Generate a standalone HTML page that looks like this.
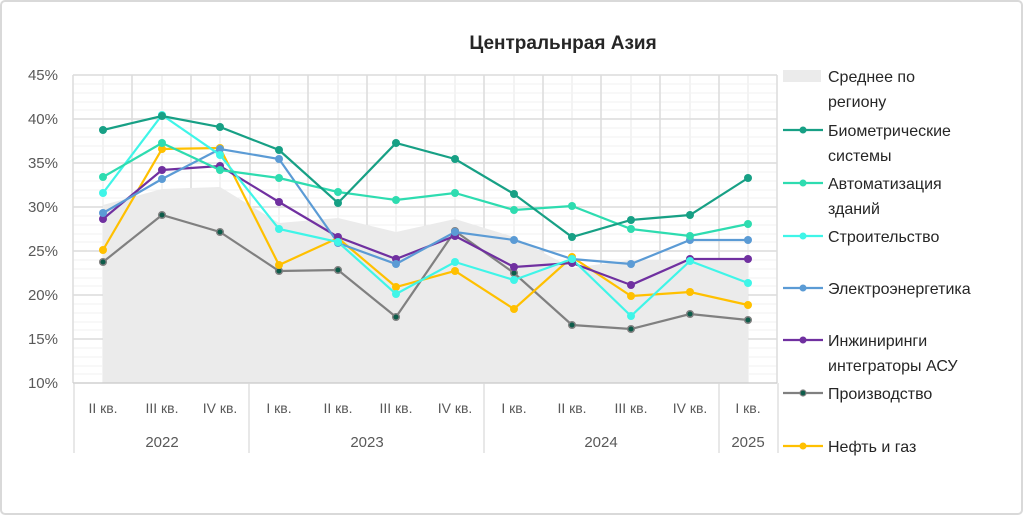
<!DOCTYPE html>
<html><head><meta charset="utf-8"><style>
body{margin:0;background:#fff;}
svg{display:block;font-family:"Liberation Sans","DejaVu Sans",sans-serif;}
</style></head><body>
<svg width="1024" height="516" viewBox="0 0 1024 516" xmlns="http://www.w3.org/2000/svg">
<rect x="1" y="1" width="1021" height="513" rx="4" fill="#fff" stroke="#d9d9d9" stroke-width="2"/>
<text x="563" y="49" font-size="19" font-weight="bold" text-anchor="middle" fill="#262626">Центральнрая Азия</text>
<g stroke="#f0f0f0" stroke-width="1">
<path d="M73 84H777M73 93H777M73 102H777M73 110H777M73 128H777M73 137H777M73 146H777M73 154H777M73 172H777M73 181H777M73 190H777M73 198H777M73 216H777M73 225H777M73 234H777M73 242H777M73 260H777M73 269H777M73 278H777M73 286H777M73 304H777M73 313H777M73 322H777M73 330H777M73 348H777M73 357H777M73 366H777M73 374H777"/>
<path d="M103 75V383M162 75V383M220 75V383M279 75V383M338 75V383M396 75V383M455 75V383M514 75V383M572 75V383M631 75V383M690 75V383M748 75V383" stroke="#f3f3f3" stroke-width="2"/>
</g>
<g stroke="#dcdcdc" stroke-width="1.5">
<path d="M73 75H777M73 119H777M73 163H777M73 207H777M73 251H777M73 295H777M73 339H777"/>
<path d="M73 75V383M132 75V383M191 75V383M250 75V383M308 75V383M367 75V383M425 75V383M484 75V383M543 75V383M601 75V383M660 75V383M719 75V383M777 75V383"/>
</g>
<polygon points="103,383 103,205 162,189 220,187 279,223 338,218 396,232 455,219 514,237 572,268 631,260 690,260 748,259 748,383" fill="#ebebeb"/>
<line x1="73" y1="383" x2="777" y2="383" stroke="#d0d0d0" stroke-width="1.5"/>
<g stroke="#d9d9d9" stroke-width="1.2"><path d="M74 383V453M249 383V453M484 383V453M719 383V453M778 383V453"/></g>
<g font-size="15" fill="#595959" text-anchor="end">
<text x="58" y="80">45%</text><text x="58" y="124">40%</text><text x="58" y="168">35%</text><text x="58" y="212">30%</text><text x="58" y="256">25%</text><text x="58" y="300">20%</text><text x="58" y="344">15%</text><text x="58" y="388">10%</text>
</g>
<g font-size="14" fill="#595959" text-anchor="middle">
<text x="103" y="413">II кв.</text><text x="162" y="413">III кв.</text><text x="220" y="413">IV кв.</text><text x="279" y="413">I кв.</text><text x="338" y="413">II кв.</text><text x="396" y="413">III кв.</text><text x="455" y="413">IV кв.</text><text x="514" y="413">I кв.</text><text x="572" y="413">II кв.</text><text x="631" y="413">III кв.</text><text x="690" y="413">IV кв.</text><text x="748" y="413">I кв.</text>
<text x="162" y="447" font-size="15">2022</text><text x="367" y="447" font-size="15">2023</text><text x="601" y="447" font-size="15">2024</text><text x="748" y="447" font-size="15">2025</text>
</g>
<g fill="none" stroke-width="2.2">
<polyline stroke="#808080" points="103,262 162,215 220,232 279,271 338,270 396,317 455,231 514,273 572,325 631,329 690,314 748,320"/>
<polyline stroke="#ffc000" points="103,250 162,149 220,148 279,265 338,238 396,287 455,271 514,309 572,257 631,296 690,292 748,305"/>
<polyline stroke="#7030a0" points="103,219 162,170 220,166 279,202 338,237 396,259 455,236 514,267 572,263 631,285 690,259 748,259"/>
<polyline stroke="#5b9bd5" points="103,213 162,179 220,149 279,159 338,243 396,264 455,232 514,240 572,259 631,264 690,240 748,240"/>
<polyline stroke="#3ff5e8" points="103,193 162,115 220,155 279,229 338,242 396,294 455,262 514,280 572,259 631,316 690,261 748,283"/>
<polyline stroke="#2edcb0" points="103,177 162,143 220,170 279,178 338,192 396,200 455,193 514,210 572,206 631,229 690,236 748,224"/>
<polyline stroke="#17a085" points="103,130 162,116 220,127 279,150 338,203 396,143 455,159 514,194 572,237 631,220 690,215 748,178"/>
</g>
<g stroke="#808080" stroke-width="1.5" fill="#0d5c4a">
<circle cx="103" cy="262" r="3.3"/><circle cx="162" cy="215" r="3.3"/><circle cx="220" cy="232" r="3.3"/><circle cx="279" cy="271" r="3.3"/><circle cx="338" cy="270" r="3.3"/><circle cx="396" cy="317" r="3.3"/><circle cx="455" cy="231" r="3.3"/><circle cx="514" cy="273" r="3.3"/><circle cx="572" cy="325" r="3.3"/><circle cx="631" cy="329" r="3.3"/><circle cx="690" cy="314" r="3.3"/><circle cx="748" cy="320" r="3.3"/>
</g>
<g fill="#ffc000"><circle cx="103" cy="250" r="4"/><circle cx="162" cy="149" r="4"/><circle cx="220" cy="148" r="4"/><circle cx="279" cy="265" r="4"/><circle cx="338" cy="238" r="4"/><circle cx="396" cy="287" r="4"/><circle cx="455" cy="271" r="4"/><circle cx="514" cy="309" r="4"/><circle cx="572" cy="257" r="4"/><circle cx="631" cy="296" r="4"/><circle cx="690" cy="292" r="4"/><circle cx="748" cy="305" r="4"/></g>
<g fill="#7030a0"><circle cx="103" cy="219" r="4"/><circle cx="162" cy="170" r="4"/><circle cx="220" cy="166" r="4"/><circle cx="279" cy="202" r="4"/><circle cx="338" cy="237" r="4"/><circle cx="396" cy="259" r="4"/><circle cx="455" cy="236" r="4"/><circle cx="514" cy="267" r="4"/><circle cx="572" cy="263" r="4"/><circle cx="631" cy="285" r="4"/><circle cx="690" cy="259" r="4"/><circle cx="748" cy="259" r="4"/></g>
<g fill="#5b9bd5"><circle cx="103" cy="213" r="4"/><circle cx="162" cy="179" r="4"/><circle cx="220" cy="149" r="4"/><circle cx="279" cy="159" r="4"/><circle cx="338" cy="243" r="4"/><circle cx="396" cy="264" r="4"/><circle cx="455" cy="232" r="4"/><circle cx="514" cy="240" r="4"/><circle cx="572" cy="259" r="4"/><circle cx="631" cy="264" r="4"/><circle cx="690" cy="240" r="4"/><circle cx="748" cy="240" r="4"/></g>
<g fill="#3ff5e8"><circle cx="103" cy="193" r="4"/><circle cx="162" cy="115" r="4"/><circle cx="220" cy="155" r="4"/><circle cx="279" cy="229" r="4"/><circle cx="338" cy="242" r="4"/><circle cx="396" cy="294" r="4"/><circle cx="455" cy="262" r="4"/><circle cx="514" cy="280" r="4"/><circle cx="572" cy="259" r="4"/><circle cx="631" cy="316" r="4"/><circle cx="690" cy="261" r="4"/><circle cx="748" cy="283" r="4"/></g>
<g fill="#2edcb0"><circle cx="103" cy="177" r="4"/><circle cx="162" cy="143" r="4"/><circle cx="220" cy="170" r="4"/><circle cx="279" cy="178" r="4"/><circle cx="338" cy="192" r="4"/><circle cx="396" cy="200" r="4"/><circle cx="455" cy="193" r="4"/><circle cx="514" cy="210" r="4"/><circle cx="572" cy="206" r="4"/><circle cx="631" cy="229" r="4"/><circle cx="690" cy="236" r="4"/><circle cx="748" cy="224" r="4"/></g>
<g fill="#17a085"><circle cx="103" cy="130" r="4"/><circle cx="162" cy="116" r="4"/><circle cx="220" cy="127" r="4"/><circle cx="279" cy="150" r="4"/><circle cx="338" cy="203" r="4"/><circle cx="396" cy="143" r="4"/><circle cx="455" cy="159" r="4"/><circle cx="514" cy="194" r="4"/><circle cx="572" cy="237" r="4"/><circle cx="631" cy="220" r="4"/><circle cx="690" cy="215" r="4"/><circle cx="748" cy="178" r="4"/></g>
<!-- legend -->
<rect x="783" y="70" width="38" height="12" fill="#ebebeb"/>
<g font-size="16" fill="#262626">
<text x="828" y="82">Среднее по</text><text x="828" y="107">региону</text>
<text x="828" y="136">Биометрические</text><text x="828" y="161">системы</text>
<text x="828" y="189">Автоматизация</text><text x="828" y="214">зданий</text>
<text x="828" y="242">Строительство</text>
<text x="828" y="294">Электроэнергетика</text>
<text x="828" y="346">Инжиниринги</text><text x="828" y="371">интеграторы АСУ</text>
<text x="828" y="399">Производство</text>
<text x="828" y="452">Нефть и газ</text>
</g>
<g stroke-width="2.2">
<line x1="783" y1="130" x2="823" y2="130" stroke="#17a085"/><circle cx="803" cy="130" r="3.5" fill="#17a085"/>
<line x1="783" y1="183" x2="823" y2="183" stroke="#2edcb0"/><circle cx="803" cy="183" r="3.5" fill="#2edcb0"/>
<line x1="783" y1="236" x2="823" y2="236" stroke="#3ff5e8"/><circle cx="803" cy="236" r="3.5" fill="#3ff5e8"/>
<line x1="783" y1="288" x2="823" y2="288" stroke="#5b9bd5"/><circle cx="803" cy="288" r="3.5" fill="#5b9bd5"/>
<line x1="783" y1="340" x2="823" y2="340" stroke="#7030a0"/><circle cx="803" cy="340" r="3.5" fill="#7030a0"/>
<line x1="783" y1="393" x2="823" y2="393" stroke="#808080"/><circle cx="803" cy="393" r="3" fill="#0d5c4a" stroke="#808080" stroke-width="1.2"/>
<line x1="783" y1="446" x2="823" y2="446" stroke="#ffc000"/><circle cx="803" cy="446" r="3.5" fill="#ffc000"/>
</g>
</svg>
</body></html>
